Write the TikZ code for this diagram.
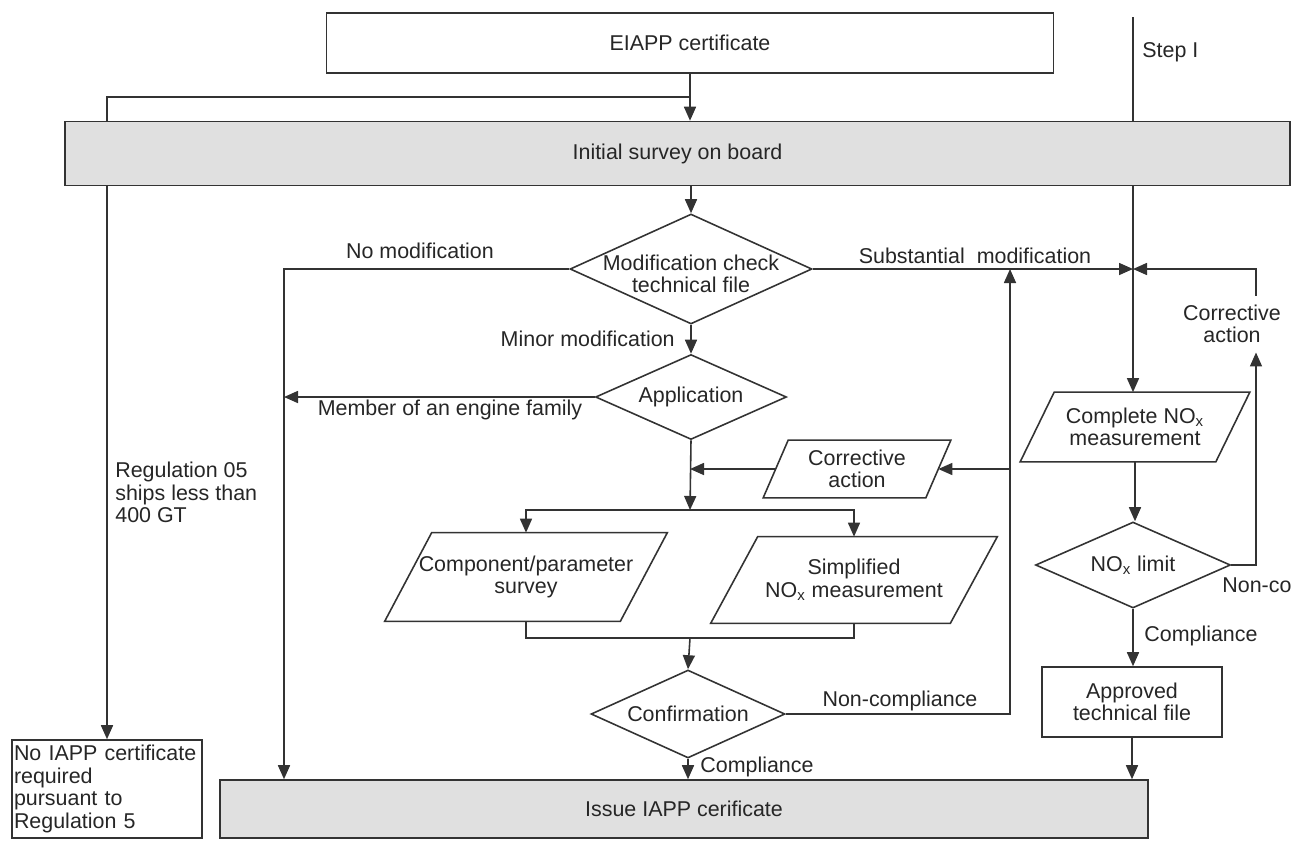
\documentclass[tikz,border=0pt]{standalone}
\usepackage{fontspec}
\setmainfont{Liberation Sans}
\usetikzlibrary{arrows.meta,shapes.geometric,calc}
\pgfdeclarelayer{bg}
\pgfsetlayers{bg,main}
\definecolor{ink}{rgb}{0.2,0.2,0.2}
\definecolor{boxgray}{rgb}{0.88,0.88,0.88}
\newcommand{\drawpara}[2]{\draw[line] ($(#1.north west)+(#2,0)$) -- ($(#1.north east)+(#2,0)$) -- ($(#1.south east)-(#2,0)$) -- ($(#1.south west)-(#2,0)$) -- cycle;}
\begin{document}
\begin{tikzpicture}[x=0.02cm,y=-0.02cm,
  every node/.style={font=\fontsize{12.2pt}{12.8pt}\selectfont, text=black!85, inner sep=0pt, align=center},
  line/.style={draw=ink, line width=0.9pt},
  arr/.style={line, -{Triangle[length=0.28cm,width=0.24cm]}},
  rbox/.style={draw=ink, line width=0.9pt, rectangle},
  gbox/.style={rbox, fill=boxgray},
  dia/.style={draw=ink, line width=0.9pt, diamond, inner sep=0pt},
  pbox/.style={rectangle, draw=none}
]
\useasboundingbox (0,0) rectangle (1295,843);

% main nodes
\node[rbox, minimum width=14.54cm, minimum height=1.2cm] (eiapp) at (690,43) {EIAPP certificate};
\node[gbox, minimum width=24.5cm, minimum height=1.28cm] (survey) at (677.5,153.5) {Initial survey on board};
\node[dia, minimum width=4.84cm, minimum height=2.2cm, label={[align=center,yshift=-0.1cm]center:{Modification check\\technical file}}] (modchk) at (691,269) {};
\node[dia, minimum width=3.82cm, minimum height=1.7cm, label=center:Application] (app) at (691,397) {};
\node[pbox, minimum width=3.24cm, minimum height=1.14cm] (corr1) at (857,469) {Corrective\\action};
\node[pbox, minimum width=4.7cm, minimum height=1.76cm] (comp) at (526,577) {Component/parameter\\survey};
\node[pbox, minimum width=4.78cm, minimum height=1.72cm] (simp) at (854,580) {Simplified\\NO\textsubscript{x} measurement};
\node[dia, minimum width=3.88cm, minimum height=1.76cm, label=center:Confirmation] (conf) at (688,714) {};
\node[gbox, minimum width=18.56cm, minimum height=1.16cm] (issue) at (684,809) {Issue IAPP cerificate};
\node[rbox, minimum width=3.8cm, minimum height=1.96cm, text width=3.72cm, align=left, inner xsep=0.04cm] (noiapp) at (107,789) {No IAPP certificate\\required\\pursuant to\\Regulation 5};
\node[pbox, minimum width=3.9cm, minimum height=1.38cm] (cplnox) at (1135,427) {Complete NO\textsubscript{x}\\measurement};
\node[dia, minimum width=3.9cm, minimum height=1.72cm, label=center:{NO\textsubscript{x} limit}] (noxlim) at (1133,565) {};
\node[rbox, minimum width=3.6cm, minimum height=1.4cm] (approved) at (1132,702) {Approved\\technical file};
\node[inner sep=0.18cm] (corr2) at (1232,324) {Corrective\\action};

\drawpara{corr1}{12.5}
\drawpara{comp}{23.5}
\drawpara{simp}{23.5}
\drawpara{cplnox}{17}

% labels
\node[anchor=west] (stepi) at (1142,52) {Step I};
\node (lnomod) at (420,251) {No modification};
\node (lsubst) at (975,256) {Substantial\ \ modification};
\node[anchor=east] (lminor) at (675,339) {Minor modification};
\node (lmember) at (450,410) {Member of an engine family};
\node[anchor=north west, align=left] (lreg) at (115,462) {Regulation 05\\ships less than\\400 GT};
\node (lnoncomp) at (900,701) {Non-compliance};
\node[anchor=west] (lcomp1) at (700,767) {Compliance};
\node[anchor=west] (lcomp2) at (1144,636) {Compliance};
\node[anchor=west] (lnonco) at (1222,585) {Non-co};

% coordinates
\coordinate (steptop) at (1133,17);
\coordinate (tap) at (690,97);
\coordinate (J) at (modchk.east -| steptop);
\coordinate (nm) at (284,269);
\coordinate (split) at (690,510);
\coordinate (merge) at (690,638);
\coordinate (vx) at (1010,0);
\coordinate (rx) at (1256,0);

% connectors
\draw[arr] (eiapp.south) -- (eiapp.south |- survey.north);
\draw[arr] (survey.south -| modchk.north) -- (modchk.north);
\draw[arr] (modchk.west) -- (nm) -- (nm |- issue.north);
\draw[arr] (modchk.east) -- (J);
\draw[arr] (modchk.south) -- (app.north);
\draw[arr] (app.west) -- (app.west -| nm);
\draw[arr] (app.south) -- (split);
\draw[arr] (comp.north |- split) -| (simp.north);
\draw[arr] (simp.north |- split) -| (comp.north);
\draw[arr] (corr1.west) -- (corr1.west -| split);
\draw[line] (comp.south) |- (merge) -| (simp.south);
\draw[arr] (merge) -- (conf.north);
\draw[arr] (conf.east) -| (vx |- J);
\draw[arr] (vx |- corr1.east) -- (corr1.east);
\draw[arr] (conf.south) -- (conf.south |- issue.north);
\draw[arr] (cplnox.south) -- (cplnox.south |- noxlim.north);
\draw[arr] (noxlim.east) -| (rx |- corr2.south);
\draw[arr] (rx |- corr2.north) |- (J);
\draw[arr] (noxlim.south) -- (noxlim.south |- approved.north);
\draw[arr] (approved.south) -- (approved.south |- issue.north);

\begin{pgfonlayer}{bg}
\draw[arr] (tap) -| (noiapp.north);
\draw[arr] (steptop) -- (steptop |- cplnox.north);
\end{pgfonlayer}
\end{tikzpicture}
\end{document}
